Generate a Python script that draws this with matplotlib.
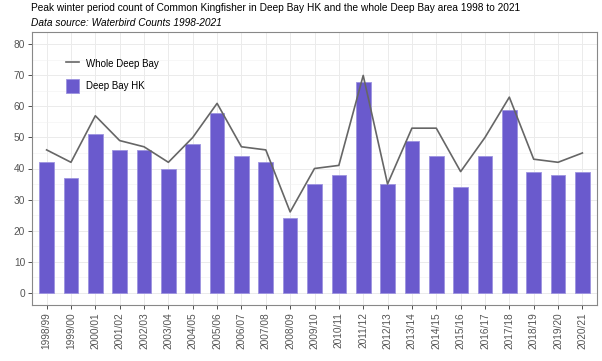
import numpy as np
import matplotlib.pyplot as plt
from matplotlib.lines import Line2D
from matplotlib.patches import Patch

plt.rcParams['font.family'] = ['Liberation Sans', 'DejaVu Sans']

seasons = ['1998/99', '1999/00', '2000/01', '2001/02', '2002/03', '2003/04', '2004/05',
           '2005/06', '2006/07', '2007/08', '2008/09', '2009/10', '2010/11', '2011/12',
           '2012/13', '2013/14', '2014/15', '2015/16', '2016/17', '2017/18', '2018/19',
           '2019/20', '2020/21']
deep_bay_hk = [42, 37, 51, 46, 46, 40, 48, 58, 44, 42, 24, 35, 38, 68, 35, 49, 44, 34, 44, 59, 39, 38, 39]
whole_deep_bay = [46, 42, 57, 49, 47, 42, 50, 61, 47, 46, 26, 40, 41, 70, 35, 53, 53, 39, 50, 63, 43, 42, 45]

fig = plt.figure(figsize=(6.02, 3.61), dpi=100)
ax = fig.add_axes([32 / 602, 1 - 305 / 361, 565 / 602, 273 / 361])

x = np.arange(len(seasons))
ax.bar(x, deep_bay_hk, width=0.6, color='#6A5ACD', edgecolor='#9D93E0', linewidth=0.6, zorder=2)
ax.plot(x, whole_deep_bay, color='#666666', linewidth=1.2, zorder=3)

ax.set_xlim(-0.6, len(seasons) - 0.4)
ax.set_ylim(-4, 84)
ax.set_xticks(x)
ax.set_xticklabels(seasons, rotation=90)
ax.set_yticks(range(0, 81, 10))
ax.set_yticks(range(5, 81, 10), minor=True)
ax.tick_params(axis='both', which='major', labelsize=7.3, colors='#333333', labelcolor='#555555',
               length=3, width=0.6, pad=2)
ax.tick_params(axis='both', which='minor', length=0)
ax.grid(which='major', color='#EBEBEB', linewidth=0.7, zorder=0)
ax.grid(which='minor', axis='y', color='#F2F2F2', linewidth=0.4, zorder=0)
ax.set_axisbelow(True)
for s in ax.spines.values():
    s.set_color('#888888')
    s.set_linewidth(0.8)

handles = [Line2D([0], [0], color='#666666', linewidth=1.2),
           Patch(facecolor='#6A5ACD', edgecolor='#9D93E0', linewidth=0.6)]
ax.legend(handles, ['Whole Deep Bay', 'Deep Bay HK'], loc='upper left',
          bbox_to_anchor=(0.045, 0.94), frameon=False, fontsize=7,
          handlelength=1.35, handleheight=1.9, labelspacing=0.75, handletextpad=0.7)

fig.text(31 / 602, 1 - 8 / 361, 'Peak winter period count of Common Kingfisher in Deep Bay HK and the whole Deep Bay area 1998 to 2021',
         fontsize=7.3, va='center', ha='left', color='#000000')
fig.text(31 / 602, 1 - 23 / 361, 'Data source: Waterbird Counts 1998-2021',
         fontsize=7.3, va='center', ha='left', style='italic', color='#000000')

fig.savefig('out.png', dpi=100)
